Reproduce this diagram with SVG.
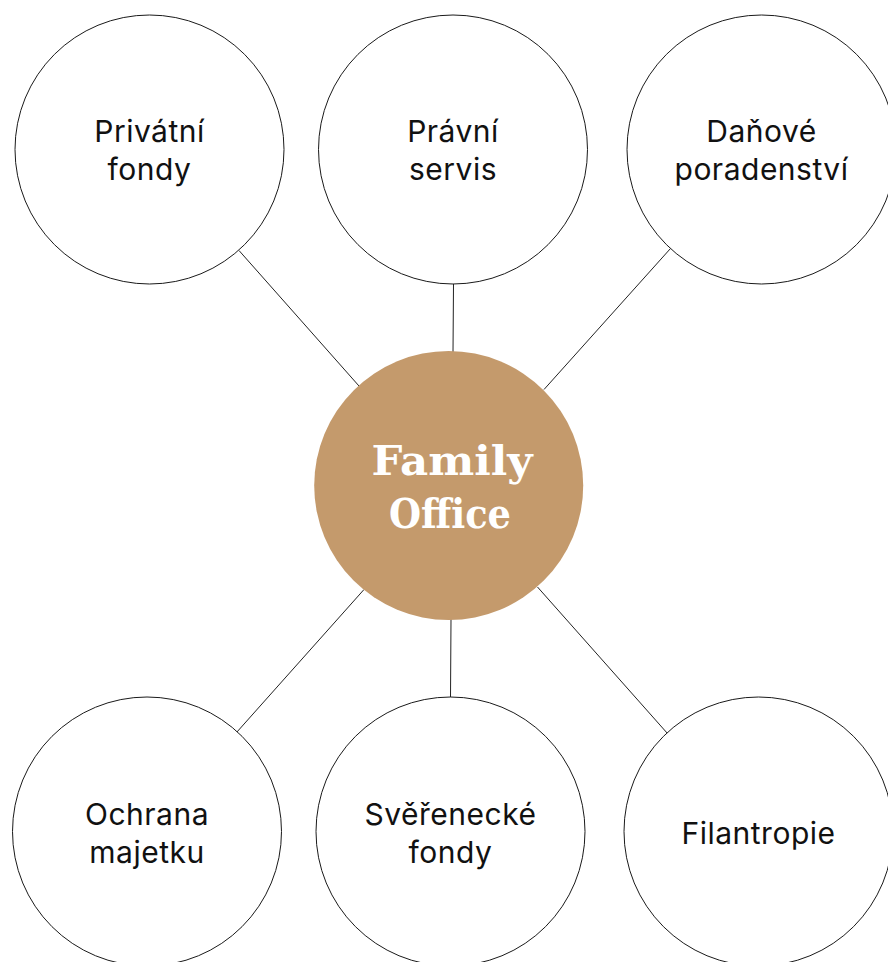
<svg xmlns="http://www.w3.org/2000/svg" width="888" height="962" viewBox="0 0 888 962">
<style>
.node{fill:#ffffff;stroke:#1a1a1a;stroke-width:1}
.hub{fill:#C49A6C;stroke:none}
.lbl{font-family:Inter,"Noto Sans","Liberation Sans",sans-serif;font-size:30px;letter-spacing:0.5px;fill:#111111;text-anchor:middle}
.hubl{font-family:"DejaVu Serif","Liberation Serif",serif;font-weight:bold;font-size:41px;fill:#ffffff;text-anchor:middle}
.conn line{stroke:#222222;stroke-width:1}
</style>
<rect width="888" height="962" fill="#ffffff"/>
<g id="connectors" class="conn">
<line x1="239" y1="250.5" x2="359" y2="386"/>
<line x1="453.5" y1="284" x2="453" y2="352"/>
<line x1="670.5" y1="248.5" x2="544" y2="389.5"/>
<line x1="364" y1="589.5" x2="236.5" y2="732.5"/>
<line x1="451" y1="619" x2="450.5" y2="697.5"/>
<line x1="537.5" y1="587" x2="667.5" y2="733.5"/>
</g>
<g id="privatni-fondy">
<circle class="node" cx="149.5" cy="149.5" r="134.5"/>
<text class="lbl" x="149.5" y="142">Privátní</text>
<text class="lbl" x="149.5" y="180">fondy</text>
</g>
<g id="pravni-servis">
<circle class="node" cx="453" cy="149.5" r="134.5"/>
<text class="lbl" x="453" y="142">Právní</text>
<text class="lbl" x="453" y="180">servis</text>
</g>
<g id="danove-poradenstvi">
<circle class="node" cx="761.5" cy="149.5" r="134.5"/>
<text class="lbl" x="761.5" y="142">Daňové</text>
<text class="lbl" x="761.5" y="180">poradenství</text>
</g>
<g id="family-office">
<circle class="hub" cx="448.7" cy="485.5" r="134.5"/>
<text class="hubl" x="452" y="475" textLength="161" lengthAdjust="spacingAndGlyphs">Family</text>
<text class="hubl" x="450" y="528" textLength="122" lengthAdjust="spacingAndGlyphs">Office</text>
</g>
<g id="ochrana-majetku">
<circle class="node" cx="147" cy="831.5" r="134.5"/>
<text class="lbl" x="147" y="825">Ochrana</text>
<text class="lbl" x="147" y="863">majetku</text>
</g>
<g id="sverenecke-fondy">
<circle class="node" cx="450.5" cy="831.5" r="134.5"/>
<text class="lbl" x="450.5" y="825">Svěřenecké</text>
<text class="lbl" x="450.5" y="863">fondy</text>
</g>
<g id="filantropie">
<circle class="node" cx="758.5" cy="831.5" r="134.5"/>
<text class="lbl" x="758.5" y="844">Filantropie</text>
</g>
</svg>
